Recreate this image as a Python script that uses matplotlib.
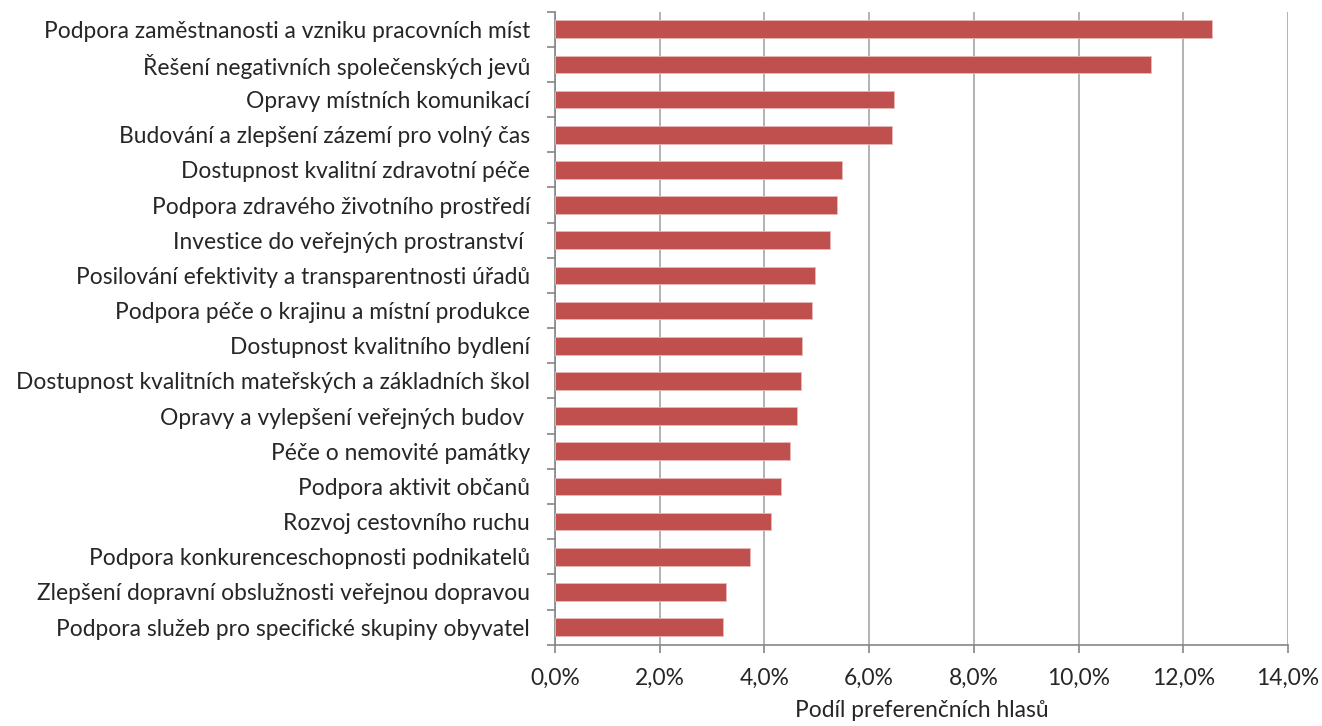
import numpy as np
import matplotlib.pyplot as plt
from matplotlib.ticker import FuncFormatter, FixedLocator

plt.rcParams['font.family'] = ['Lato', 'DejaVu Sans']

# priorities, top to bottom
categories = [
    'Podpora zaměstnanosti a vzniku pracovních míst',
    'Řešení negativních společenských jevů',
    'Opravy místních komunikací',
    'Budování a zlepšení zázemí pro volný čas',
    'Dostupnost kvalitní zdravotní péče',
    'Podpora zdravého životního prostředí',
    'Investice do veřejných prostranství ',
    'Posilování efektivity a transparentnosti úřadů',
    'Podpora péče o krajinu a místní produkce',
    'Dostupnost kvalitního bydlení',
    'Dostupnost kvalitních mateřských a základních škol',
    'Opravy a vylepšení veřejných budov ',
    'Péče o nemovité památky',
    'Podpora aktivit občanů',
    'Rozvoj cestovního ruchu',
    'Podpora konkurenceschopnosti podnikatelů',
    'Zlepšení dopravní obslužnosti veřejnou dopravou',
    'Podpora služeb pro specifické skupiny obyvatel',
]
# share of preference votes (%)
shares = [12.54, 11.39, 6.47, 6.44, 5.48, 5.39, 5.25, 4.96, 4.91,
          4.72, 4.70, 4.63, 4.49, 4.31, 4.13, 3.73, 3.27, 3.21]

bar_color = '#C0504D'
axis_color = '#868686'
grid_color = '#A6A6A6'
text_color = '#262626'
fsize = 16.4

fig = plt.figure(figsize=(13.22, 7.26), dpi=100)
ax = fig.add_axes([0.4198, 0.112, 0.5545, 0.872])

y = np.arange(len(categories))
ax.barh(y, shares, height=0.5, color=bar_color, edgecolor='#E8B8B7',
        linewidth=0.6, zorder=3)

ax.set_xlim(0, 14)
ax.set_ylim(len(categories) - 0.5, -0.5)
ax.set_xticks(np.arange(0, 14.1, 2))
ax.xaxis.set_major_formatter(FuncFormatter(lambda v, p: f'{v:.1f}%'.replace('.', ',')))
ax.grid(axis='x', color=grid_color, linewidth=1.2, zorder=0)

ax.set_yticks(y)
ax.set_yticklabels(categories)
ax.yaxis.set_minor_locator(FixedLocator(np.arange(-0.5, len(categories), 1)))
ax.tick_params(axis='y', which='major', length=0, pad=18, labelsize=fsize,
               labelcolor=text_color)
ax.tick_params(axis='y', which='minor', length=6, width=1.2, color=axis_color)
ax.tick_params(axis='x', which='major', length=6, width=1.2, color=axis_color,
               pad=11, labelsize=fsize, labelcolor=text_color)

for side in ['top', 'right']:
    ax.spines[side].set_visible(False)
for side in ['left', 'bottom']:
    ax.spines[side].set_color(axis_color)
    ax.spines[side].set_linewidth(1.2)

ax.set_xlabel('Podíl preferenčních hlasů', fontsize=fsize, color=text_color,
              labelpad=8)

fig.savefig('out.png', dpi=100, facecolor='white')
